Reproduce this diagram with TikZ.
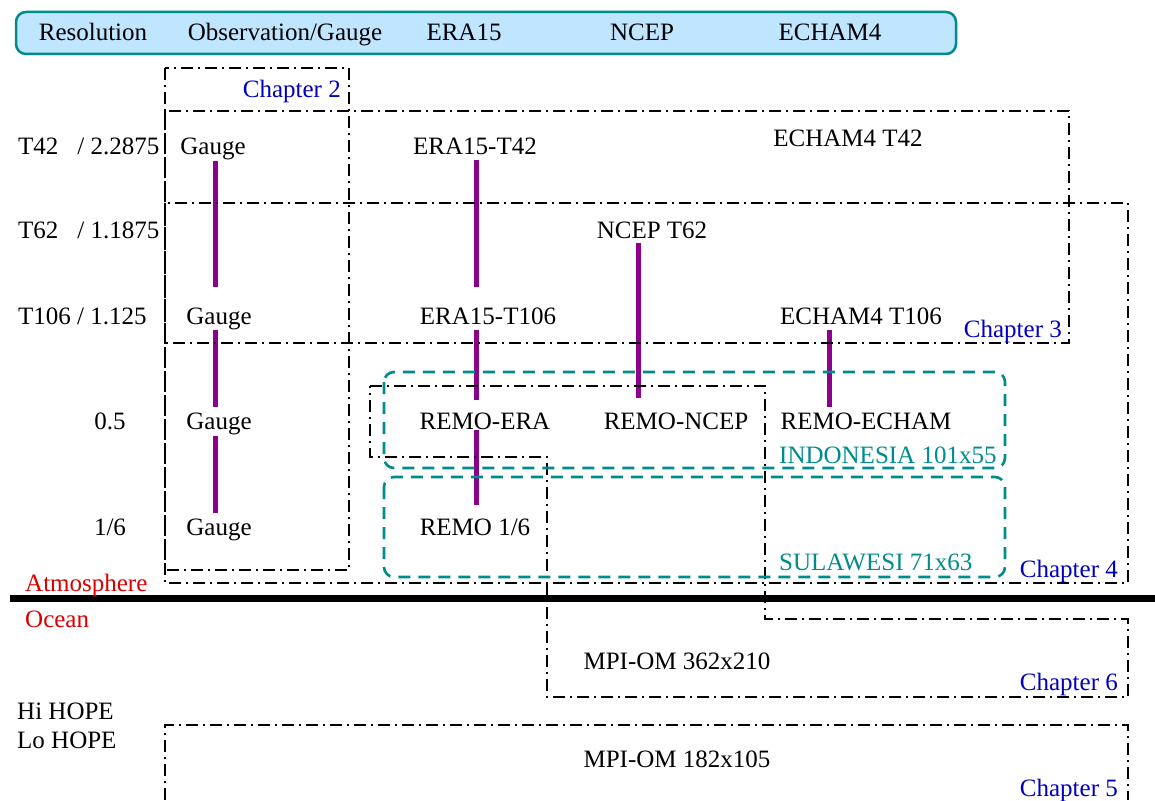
\documentclass[tikz,border=0pt]{standalone}
\usepackage{fontspec}
\setmainfont{Liberation Serif}
\usetikzlibrary{positioning}
\definecolor{headblue}{RGB}{191,229,255}
\definecolor{headteal}{RGB}{0,140,140}
\definecolor{remoteal}{RGB}{0,140,140}
\definecolor{gaugepurple}{RGB}{140,0,140}
\definecolor{chapblue}{RGB}{0,0,190}
\definecolor{layerred}{RGB}{220,0,0}

\begin{document}
\begin{tikzpicture}[x=1pt,y=-1pt,
  every node/.style={font=\fontsize{25}{30}\selectfont,inner sep=0pt,text height=19pt,text depth=3pt},
  chap/.style={line width=2.8pt,dash pattern=on 12pt off 5pt on 2pt off 5pt},
  region/.style={remoteal,line width=2.6pt,dash pattern=on 12pt off 8pt,rounded corners=10pt},
  link/.style={gaugepurple,line width=5pt},
  chaplabel/.style={chapblue,anchor=east},
  reslabel/.style={anchor=west}]
\useasboundingbox (0,0) rectangle (1155,800);
\draw [headteal,fill=headblue,line width=2.5pt,rounded corners=10pt] (16,12) rectangle (956,54);
\node (hres) at (93,33) {Resolution};
\node (hobs) at (285,33) {Observation/Gauge};
\node (hera) at (464,33) {ERA15};
\node (hncep) at (642,33) {NCEP};
\node (hecham) at (830,33) {ECHAM4};

\node [reslabel] (r42) at (18,146) {T42\hspace{19pt}/ 2.2875};
\node [reslabel] (r62) at (18,230) {T62\hspace{19pt}/ 1.1875};
\node [reslabel] (r106) at (18,316) {T106 / 1.125};
\node (r05) at (110,421) {0.5};
\node (r16) at (110,527) {1/6};

\node (g42) at (213,146) {Gauge};
\node (g106) at (219,316) {Gauge};
\node (g05) at (219,421) {Gauge};
\node (g16) at (219,527) {Gauge};
\node (era42) at (475,146) {ERA15-T42};
\node (era106) at (488,316) {ERA15-T106};
\node (remoera) at (485,421) {REMO-ERA};
\node (remo16) at (475,527) {REMO 1/6};
\node (ncep62) at (652,230) {NCEP T62};
\node (remoncep) at (676,421) {REMO-NCEP};
\node (echam42) at (848,138) {ECHAM4 T42};
\node (echam106) at (861,316) {ECHAM4 T106};
\node (remoecham) at (866,421) {REMO-ECHAM};

\coordinate (gcol) at (215,0);
\coordinate (ecol) at (476,0);
\coordinate (ncol) at (638,0);
\coordinate (hcol) at (829,0);
\draw [link,shorten <=4pt,shorten >=18pt] (g42.south -| gcol) -- (g106.north -| gcol);
\draw [link,shorten <=3pt,shorten >=3pt] (g106.south -| gcol) -- (g05.north -| gcol);
\draw [link,shorten <=4pt,shorten >=3pt] (g05.south -| gcol) -- (g16.north -| gcol);
\draw [link,shorten <=3pt,shorten >=18pt] (era42.south -| ecol) -- (era106.north -| ecol);
\draw [link,shorten <=3pt,shorten >=10pt] (era106.south -| ecol) -- (remoera.north -| ecol);
\draw [link,shorten <=-2pt,shorten >=11pt] (remoera.south -| ecol) -- (remo16.north -| ecol);
\draw [link,shorten <=2pt,shorten >=12pt] (ncep62.south -| ncol) -- (remoncep.north -| ncol);
\draw [link,shorten <=3pt,shorten >=3pt] (echam106.south -| hcol) -- (remoecham.north -| hcol);

\draw [chap] (165,68) rectangle (349,570);
\draw [chap] (165,111) rectangle (1069,343);
\draw [chap] (165,203) rectangle (1128,583);
\draw [chap] (370,386) -- (765,386) -- (765,619) -- (1128,619) -- (1128,697) -- (547,697) -- (547,457) -- (370,457) -- cycle;
\draw [chap] (165,800) -- (165,725) -- (1128,725) -- (1128,800);

\draw [region] (384,372) rectangle (1005,468);
\draw [region] (384,477) rectangle (1005,577);
\node [remoteal,anchor=west] (indo) at (779,455) {INDONESIA 101x55};
\node [remoteal,anchor=west] (sula) at (779,562) {SULAWESI 71x63};

\draw [line width=7pt] (10,598) -- (1155,598);
\node [layerred,anchor=west] (atmo) at (25,583) {Atmosphere};
\node [layerred,anchor=west] (ocean) at (25,619) {Ocean};

\node (mpihi) at (677,661) {MPI-OM 362x210};
\node (mpilo) at (677,759) {MPI-OM 182x105};
\node [reslabel] (hihope) at (17,711) {Hi HOPE};
\node [reslabel] (lohope) at (17,740) {Lo HOPE};

\node [chaplabel] (ch2) at (341,89) {Chapter 2};
\node [chaplabel] (ch3) at (1062,329) {Chapter 3};
\node [chaplabel] (ch4) at (1118,569) {Chapter 4};
\node [chaplabel] (ch6) at (1118,682) {Chapter 6};
\node [chaplabel] (ch5) at (1118,788) {Chapter 5};
\end{tikzpicture}
\end{document}
